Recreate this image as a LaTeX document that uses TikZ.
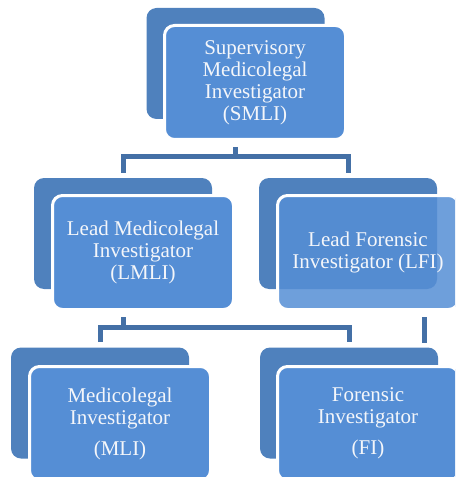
\documentclass[tikz,border=0pt]{standalone}
\usepackage{fontspec}
\setmainfont{Liberation Serif}
\definecolor{backblue}{HTML}{4F81BD}
\definecolor{frontblue}{HTML}{558ED5}
\definecolor{linkblue}{HTML}{4470A6}
\definecolor{labelwhite}{HTML}{F4F6FA}
\tikzset{
  backbox/.style={fill=backblue, rounded corners=7.5pt, inner sep=0pt,
    minimum width=133.5pt, minimum height=83.25pt},
  frontbox/.style={fill=frontblue, draw=white, line width=2.25pt, rounded corners=7.5pt,
    minimum width=135.75pt, minimum height=85.5pt, inner sep=0pt, align=center,
    text=labelwhite, font=\fontsize{15.75}{16.5}\selectfont},
  link/.style={draw=linkblue, line width=3.75pt}
}
\begin{document}
\begin{tikzpicture}[x=0.75pt,y=-0.75pt]
\clip (0,0) rectangle (455,477);
% shadow boxes behind each position
 \foreach \nm/\px/\py in {smli/235.5/63.5,lmli/123/233.5,lfi/348/233.5,mli/100/403,fi/349/403}
    \node[backbox] (back\nm) at (\px,\py) {};
\node[frontbox] (smli) at (255,82.5) {Supervisory\\Medicolegal\\Investigator\\(SMLI)};
\node[frontbox] (lmli) at (143,252.5) {Lead Medicolegal\\Investigator\\(LMLI)};
\node[frontbox, fill opacity=0.85, text opacity=1] (lfi) at (368,252.5) {Lead Forensic\\Investigator (LFI)};
\node[frontbox] (mli) at (120,423.5) {Medicolegal\\Investigator\\[6.75pt](MLI)};
\node[frontbox] (fi) at (368,423.5) {Forensic\\Investigator\\[6.75pt](FI)};
% connectors
\coordinate (topbar) at (0,157);
\coordinate (midbar) at (0,327);
\coordinate (lfiend) at (424,343);
\draw[link, shorten <=4.5pt] (smli.south -| backsmli) -- (backsmli |- topbar);
\draw[link, shorten <=3.75pt, shorten >=3.75pt] (backlmli.north) |- (backsmli |- topbar) -| (backlfi.north);
\draw[link, shorten <=4.5pt] (lmli.south -| backlmli) -- (backlmli |- midbar);
\draw[link, shorten <=3.75pt, shorten >=3.75pt] (backmli.north) |- (backlmli |- midbar) -| (backfi.north);
\draw[link, shorten <=4.5pt] (lfi.south -| lfiend) -- (lfiend);
\end{tikzpicture}
\end{document}
